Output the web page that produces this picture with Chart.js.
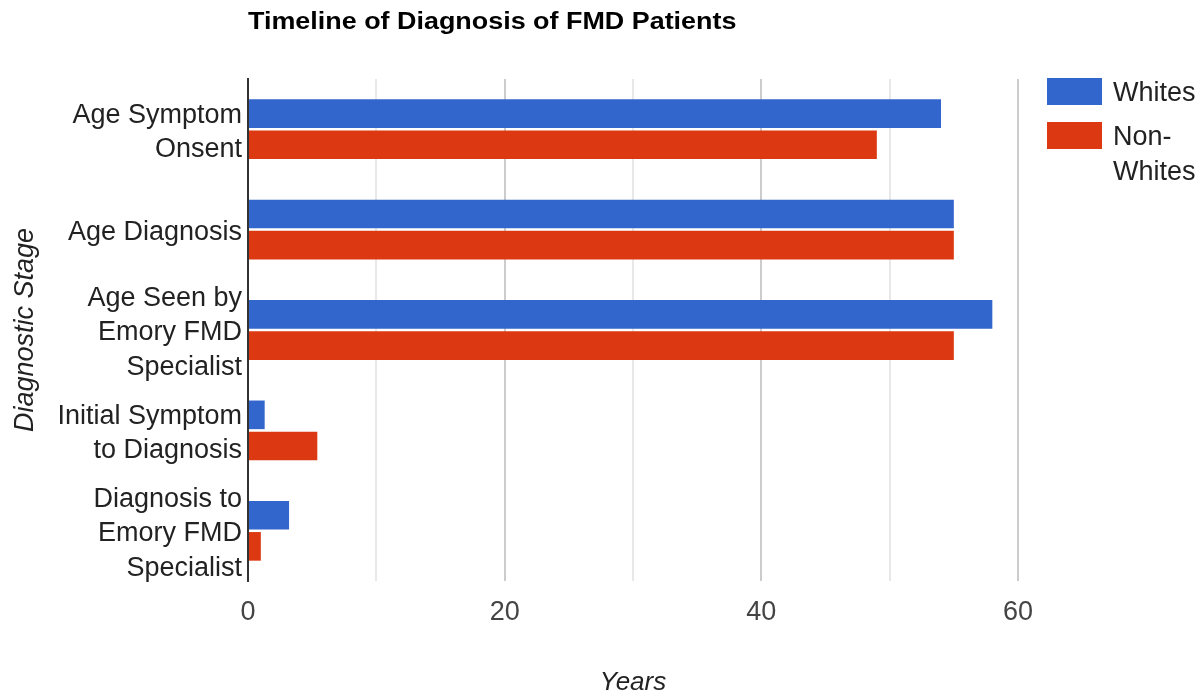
<!DOCTYPE html>
<html><head><meta charset="utf-8">
<script src="https://cdn.jsdelivr.net/npm/chart.js@4.4.1/dist/chart.umd.min.js"></script>
<style>html,body{margin:0;padding:0;background:#fff;overflow:hidden}#wrap{width:1204px;height:696px;position:relative}</style>
</head><body><div id="wrap"><canvas id="c" width="1204" height="696"></canvas></div>
<script>
const categories = [["Age Symptom","Onsent"],["Age Diagnosis"],["Age Seen by","Emory FMD","Specialist"],["Initial Symptom","to Diagnosis"],["Diagnosis to","Emory FMD","Specialist"]];
const whites = [54, 55, 58, 1.3, 3.2];
const nonWhites = [49, 55, 55, 5.4, 1.0];
const seriesNames = ["Whites", "Non-Whites"];
const legendLines = [["Whites"], ["Non-", "Whites"]];
const seriesColors = ["#3366cc", "#dc3912"];
const xMin = 0, xMax = 60, xStep = 10, xLabelEvery = 20;
const chartTitle = "Timeline of Diagnosis of FMD Patients";
const xTitle = "Years";
const yTitle = "Diagnostic Stage";

const FONT = "'Liberation Sans', Arial, sans-serif";

const titlePlugin = {
  id: 'leftTitle',
  afterDraw(chart) {
    const ctx = chart.ctx;
    ctx.save();
    ctx.font = "bold 23px " + FONT;
    ctx.fillStyle = "#000";
    ctx.textAlign = "left";
    ctx.textBaseline = "alphabetic";
    ctx.translate(chart.chartArea.left, 29);
    ctx.scale(1.17, 1);
    ctx.fillText(chartTitle, 0, 0);
    ctx.restore();
  }
};

const legendPlugin = {
  id: 'sideLegend',
  afterDraw(chart) {
    const ctx = chart.ctx;
    const ca = chart.chartArea;
    ctx.save();
    ctx.font = "27px " + FONT;
    ctx.textBaseline = "middle";
    ctx.textAlign = "left";
    chart.data.datasets.forEach((ds, i) => {
      const bx = ca.right + 29, by = ca.top - 1 + i * 44;
      ctx.fillStyle = ds.backgroundColor;
      ctx.fillRect(bx, by, 55, 27);
      ctx.fillStyle = "#222";
      legendLines[i].forEach((line, j) => {
        ctx.fillText(line, bx + 66, by + 16 + j * 35);
      });
    });
    ctx.restore();
  }
};

new Chart(document.getElementById('c'), {
  type: 'bar',
  data: {
    labels: categories,
    datasets: [
      { label: seriesNames[0], data: whites, backgroundColor: seriesColors[0], categoryPercentage: 0.62, barPercentage: 0.92 },
      { label: seriesNames[1], data: nonWhites, backgroundColor: seriesColors[1], categoryPercentage: 0.62, barPercentage: 0.92 }
    ]
  },
  options: {
    indexAxis: 'y',
    responsive: false,
    animation: false,
    devicePixelRatio: 1,
    layout: { padding: { top: 79, right: 186, bottom: 0, left: 0 } },
    plugins: { legend: { display: false }, title: { display: false }, tooltip: { enabled: false } },
    scales: {
      x: {
        min: xMin, max: xMax,
        afterFit(s) { s.height = 115; },
        ticks: {
          stepSize: xStep,
          padding: 15,
          color: "#444",
          font: { family: FONT, size: 27 },
          callback: v => (v % xLabelEvery === 0 ? String(v) : '')
        },
        grid: {
          drawTicks: false,
          lineWidth: 2,
          color: c => (c.tick && c.tick.value % xLabelEvery === 0 ? '#cccccc' : '#e8e8e8')
        },
        border: { display: false },
        title: { display: true, text: xTitle, color: "#222", padding: { top: 0, bottom: -2 }, font: { family: FONT, size: 26, style: 'italic' } }
      },
      y: {
        afterFit(s) { s.width = 248; },
        ticks: { autoSkip: false, padding: 6, labelOffset: 3, color: "#222", font: { family: FONT, size: 27, lineHeight: 1.27 } },
        grid: { display: false, drawTicks: false },
        border: { display: true, color: "#333", width: 2 },
        title: { display: true, text: yTitle, color: "#222", padding: { top: 9, bottom: 0 }, font: { family: FONT, size: 27, style: 'italic' } }
      }
    }
  },
  plugins: [titlePlugin, legendPlugin]
});
</script>
</body></html>
